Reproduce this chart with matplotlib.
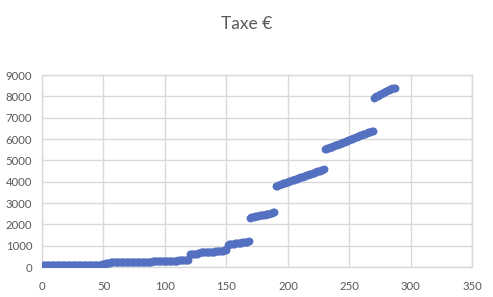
import numpy as np
import matplotlib
matplotlib.use("Agg")
import matplotlib.pyplot as plt

# tax values, sorted, one point per row (x = row number)
taxe_low = [78, 79, 80, 80, 81, 81, 82, 82, 83, 83, 84, 84, 85, 85, 86, 86,
            87, 87, 88, 88, 89, 89, 90, 90, 91, 91, 92, 92, 93, 93, 94, 94,
            95, 95, 96, 96, 97, 97, 98, 98, 99, 99, 100, 101, 102, 103, 104, 105]
taxe_150 = [150, 155, 160, 165, 170, 175, 180]
taxe_230 = [215, 216, 217, 218, 219, 220, 221, 222, 223, 224, 225, 226, 227,
            228, 229, 230, 231, 232, 233, 234, 235, 236, 237, 238, 239, 240,
            241, 242, 243, 244, 245, 246, 248, 250]
taxe_300 = [285, 286, 287, 288, 289, 290, 291, 292, 293, 294, 295, 296, 297,
            298, 299, 300, 301, 302, 303, 304, 305, 306, 307, 308, 309, 310,
            311, 312, 313, 314]
taxe_700 = [600, 605, 610, 615, 620, 625, 630, 640, 650, 690, 692, 694, 696,
            698, 700, 702, 704, 706, 708, 712, 716, 740, 745, 750, 755, 760,
            765, 770, 775, 780, 790]
taxe_1100 = [1050, 1060, 1070, 1080, 1090, 1100, 1105, 1110, 1115, 1120, 1130,
             1140, 1150, 1160, 1170, 1180, 1195, 1210]
taxe_2400 = [2320, 2335, 2350, 2365, 2380, 2390, 2400, 2410, 2420, 2430, 2440,
             2450, 2460, 2470, 2480, 2490, 2505, 2520, 2540, 2560, 2580]
taxe_4200 = [3800, 3820, 3840, 3860, 3880, 3900, 3920, 3940, 3960, 3980, 4000,
             4020, 4040, 4060, 4080, 4100, 4120, 4140, 4160, 4180, 4200, 4220,
             4240, 4260, 4280, 4300, 4320, 4340, 4360, 4380, 4400, 4420, 4440,
             4460, 4480, 4500, 4520, 4540, 4560, 4580]
taxe_6000 = [5520, 5540, 5560, 5590, 5610, 5630, 5650, 5680, 5700, 5720, 5740,
             5770, 5790, 5810, 5830, 5860, 5880, 5900, 5920, 5950, 5970, 5990,
             6010, 6040, 6060, 6080, 6100, 6130, 6150, 6170, 6190, 6220, 6240,
             6260, 6280, 6310, 6330, 6350, 6370, 6400]
taxe_8200 = [7950, 7980, 8010, 8040, 8070, 8100, 8130, 8160, 8190, 8220, 8250,
             8280, 8300, 8330, 8360, 8380, 8400, 8420]

x_ticks = [0, 50, 100, 150, 200, 250, 300, 350]
y_ticks = [0, 1000, 2000, 3000, 4000, 5000, 6000, 7000, 8000, 9000]

taxe = (taxe_low + taxe_150 + taxe_230 + taxe_300 + taxe_700 + taxe_1100
        + taxe_2400 + taxe_4200 + taxe_6000 + taxe_8200)
rows = np.arange(1, len(taxe) + 1)

plt.rcParams['font.family'] = ['Lato', 'DejaVu Sans']

fig = plt.figure(figsize=(4.93, 2.97), dpi=100)
ax = fig.add_axes([0.0852, 0.101, 0.873, 0.646])

grid_col = "#d9d9d9"
text_col = "#595959"

ax.scatter(rows, taxe, s=32, color="#5470c1", linewidths=0, zorder=3)

ax.set_xlim(0, 350)
ax.set_ylim(0, 9000)
ax.set_xticks(x_ticks)
ax.set_yticks(y_ticks)
ax.grid(True, color=grid_col, linewidth=1)
ax.set_axisbelow(True)
for s in ax.spines.values():
    s.set_color(grid_col)
    s.set_linewidth(1)
ax.tick_params(length=0, labelsize=8.2, labelcolor=text_col)
ax.tick_params(axis="x", pad=10)
ax.tick_params(axis="y", pad=7)

fig.text(0.5, 0.92, "Taxe €", ha="center", va="center", fontsize=12.5,
         color=text_col)

fig.savefig("out.png", dpi=100)
